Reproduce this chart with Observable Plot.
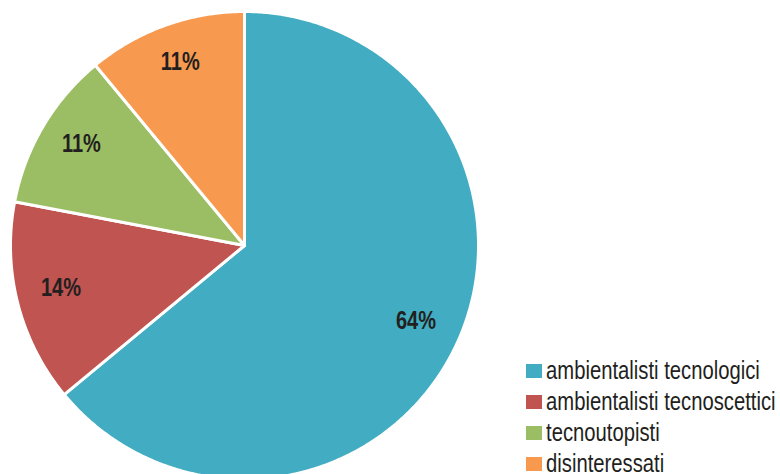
<!DOCTYPE html>
<html>
<head>
<meta charset="utf-8">
<script src="https://cdn.jsdelivr.net/npm/d3@7"></script>
<script src="https://cdn.jsdelivr.net/npm/@observablehq/plot@0.6"></script>
<style>
  html, body { margin: 0; padding: 0; background: #fff; }
  #wrap { position: relative; width: 780px; height: 474px; overflow: hidden; }
  #wrap svg { position: absolute; left: 0; top: 0; }
  #legend { position: absolute; left: 526px; top: 355px; }
  #legend .sw { display: flex; align-items: center; height: 31px; white-space: nowrap; }
  #legend .sw span.box { display: inline-block; width: 16px; height: 14px; margin-right: 4px; flex: none; }
  #legend .sw span.txt { display: inline-block; font-family: "Liberation Sans", Arial, sans-serif; font-size: 25px; color: #231f20; transform: scaleX(0.81); transform-origin: 0 50%; }
</style>
</head>
<body>
<div id="wrap"></div>
<script>
const categories = ["ambientalisti tecnologici", "ambientalisti tecnoscettici", "tecnoutopisti", "disinteressati"];
const shares = [64, 14, 11, 11];
const labels = ["64%", "14%", "11%", "11%"];
const colors = ["#41acc2", "#bf5450", "#9bbe64", "#f79a50"];

const total = d3.sum(shares);
// slices clockwise from 12 o'clock
let acc = 0;
const slices = categories.map((c, i) => {
  const a0 = acc / total * 2 * Math.PI;
  acc += shares[i];
  const a1 = acc / total * 2 * Math.PI;
  return {category: c, value: shares[i], label: labels[i], a0, a1};
});

const pts = [];
for (const s of slices) {
  pts.push({category: s.category, x: 0, y: 0});
  const n = Math.max(2, Math.ceil((s.a1 - s.a0) / (Math.PI / 360)));
  for (let k = 0; k <= n; k++) {
    const a = s.a0 + (s.a1 - s.a0) * k / n;
    pts.push({category: s.category, x: Math.sin(a), y: Math.cos(a)});
  }
  pts.push({category: s.category, x: 0, y: 0});
}
const labelR = 0.81;
const labelPts = slices.map(s => {
  const m = (s.a0 + s.a1) / 2;
  return {label: s.label, x: labelR * Math.sin(m), y: labelR * Math.cos(m)};
});

const cx = 244, cy = 245, R = 234;
const chart = Plot.plot({
  width: 780,
  height: 474,
  margin: 0,
  x: {domain: [-1, 1], range: [cx - R, cx + R], axis: null},
  y: {domain: [-1, 1], range: [cy + R, cy - R], axis: null},
  color: {domain: categories, range: colors},
  style: {overflow: "hidden", background: "#fff"},
  marks: [
    Plot.line(pts, {x: "x", y: "y", z: "category", fill: "category", stroke: "white", strokeWidth: 3, strokeLinejoin: "round", curve: "linear"}),
    Plot.text(labelPts, {x: "x", y: "y", dy: -5, text: "label", fontSize: 25, fontWeight: "bold", fill: "#231f20", fontFamily: "'Liberation Sans', Arial, sans-serif", className: "pct"})
  ]
});
// condense the percentage labels horizontally around their anchor
chart.querySelectorAll(".pct text").forEach(t => {
  const tr = t.getAttribute("transform");
  if (tr && /translate/.test(tr)) {
    t.setAttribute("transform", tr + " scale(0.8,1)");
  } else {
    const x = +t.getAttribute("x") || 0, y = +t.getAttribute("y") || 0;
    t.setAttribute("transform", `${tr || ""} translate(${x},${y}) scale(0.8,1) translate(${-x},${-y})`);
  }
});
document.getElementById("wrap").appendChild(chart);

const leg = document.createElement("div");
leg.id = "legend";
categories.forEach((c, i) => {
  const row = document.createElement("div");
  row.className = "sw";
  const b = document.createElement("span");
  b.className = "box";
  b.style.background = chart.scale("color").apply(c);
  const t = document.createElement("span");
  t.className = "txt";
  t.textContent = c;
  row.appendChild(b);
  row.appendChild(t);
  leg.appendChild(row);
});
document.getElementById("wrap").appendChild(leg);
</script>
</body>
</html>
